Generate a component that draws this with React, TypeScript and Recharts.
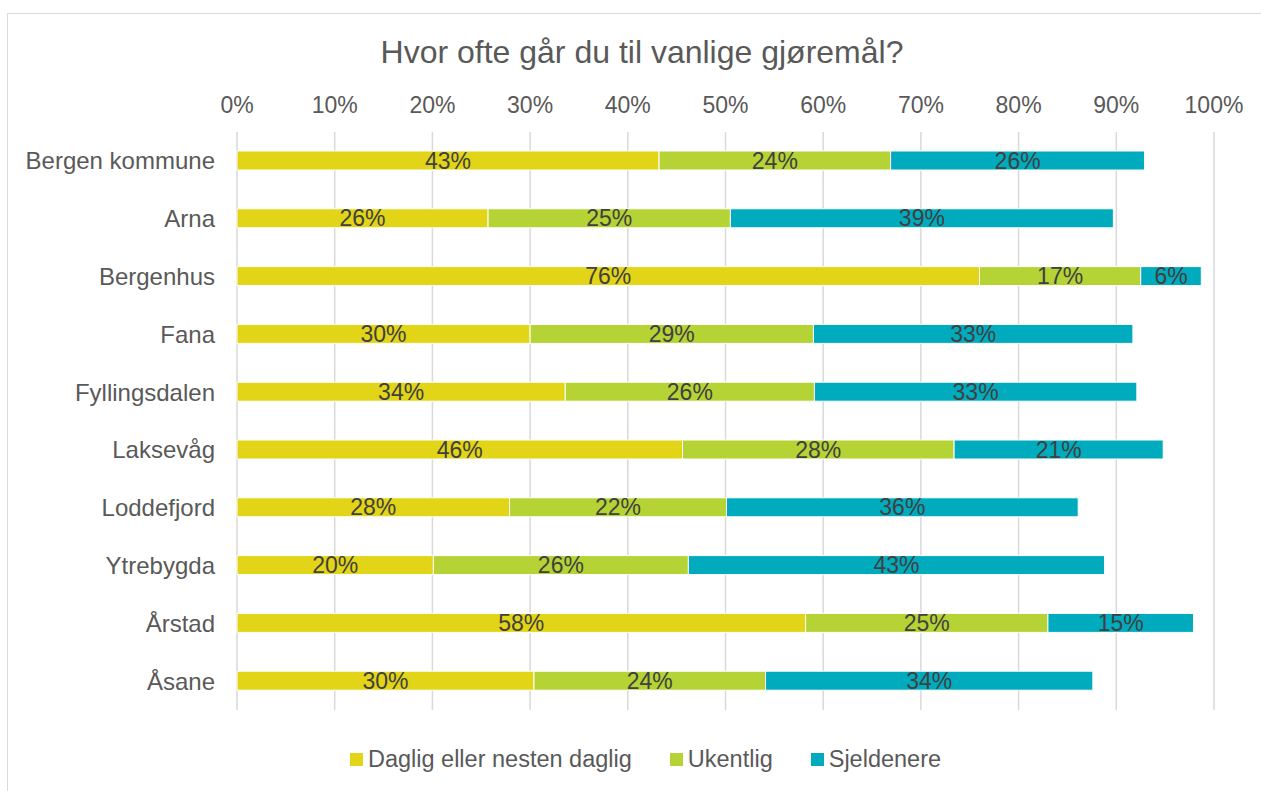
import React from 'react';
import {
  BarChart,
  Bar,
  XAxis,
  YAxis,
  CartesianGrid,
  LabelList,
} from 'recharts';

const categories = [
  'Bergen kommune',
  'Arna',
  'Bergenhus',
  'Fana',
  'Fyllingsdalen',
  'Laksevåg',
  'Loddefjord',
  'Ytrebygda',
  'Årstad',
  'Åsane',
];

const daglig = [0.432, 0.257, 0.76, 0.3, 0.336, 0.456, 0.279, 0.201, 0.582, 0.304];
const ukentlig = [0.237, 0.248, 0.165, 0.29, 0.255, 0.278, 0.222, 0.261, 0.248, 0.237];
const sjeldnere = [0.26, 0.392, 0.062, 0.327, 0.33, 0.214, 0.36, 0.426, 0.149, 0.335];

const xTicks = [0, 0.1, 0.2, 0.3, 0.4, 0.5, 0.6, 0.7, 0.8, 0.9, 1];

const SERIES = [
  { key: 'daglig', name: 'Daglig eller nesten daglig', color: '#E2D416' },
  { key: 'ukentlig', name: 'Ukentlig', color: '#B5D334' },
  { key: 'sjeldnere', name: 'Sjeldenere', color: '#00ABBD' },
];

const data = categories.map((name, i) => ({
  name,
  daglig: daglig[i],
  ukentlig: ukentlig[i],
  sjeldnere: sjeldnere[i],
}));

const FONT = '"Liberation Sans", Arial, sans-serif';
const FS = 23;
const pct = (v: number) => `${Math.round(v * 100)}%`;

export default function App() {
  return (
    <div style={{ position: 'absolute', left: 0, top: 0, width: 1261, height: 791, background: '#fff', overflow: 'hidden' }}>
      <div
        style={{
          position: 'absolute',
          left: 7,
          top: 13,
          width: 1270,
          height: 800,
          border: '1px solid #D9D9D9',
          boxSizing: 'border-box',
        }}
      />
      <div
        style={{
          position: 'absolute',
          left: 0,
          top: 34,
          width: 1284,
          textAlign: 'center',
          fontFamily: FONT,
          fontSize: 32,
          color: '#595959',
        }}
      >
        Hvor ofte går du til vanlige gjøremål?
      </div>
      <div style={{ position: 'absolute', left: 0, top: 0 }}>
        <BarChart
          width={1261}
          height={791}
          data={data}
          layout="vertical"
          barSize={19}
          margin={{ top: 92, right: 47, bottom: 81, left: 7 }}
        >
          <CartesianGrid horizontal={false} stroke="#D9D9D9" strokeWidth={1.5} />
          <XAxis
            type="number"
            orientation="top"
            domain={[0, 1]}
            ticks={xTicks}
            tickFormatter={pct}
            axisLine={false}
            tickLine={false}
            tickMargin={13}
            height={40}
            interval={0}
            tick={{ fill: '#595959', fontSize: FS, fontFamily: FONT }}
          />
          <YAxis
            type="category"
            dataKey="name"
            width={230}
            axisLine={false}
            tickLine={false}
            tickMargin={16}
            interval={0}
            tick={{ fill: '#595959', fontSize: 24, fontFamily: FONT }}
          />
          {SERIES.map((s) => (
            <Bar
              key={s.key}
              dataKey={s.key}
              name={s.name}
              stackId="a"
              fill={s.color}
              stroke="#fff"
              strokeWidth={1}
              isAnimationActive={false}
            >
              <LabelList
                dataKey={s.key}
                position="center"
                formatter={(v: number) => pct(v)}
                fill="#404040"
                fontSize={FS}
                fontFamily={FONT}
              />
            </Bar>
          ))}
        </BarChart>
      </div>
      <div
        style={{
          position: 'absolute',
          left: 0,
          top: 746,
          width: 1291,
          display: 'flex',
          justifyContent: 'center',
          gap: 38,
          fontFamily: FONT,
          fontSize: 23.5,
          color: '#595959',
        }}
      >
        {SERIES.map((s) => (
          <div key={s.key} style={{ display: 'flex', alignItems: 'center' }}>
            <span style={{ width: 13, height: 13, background: s.color, marginRight: 5, display: 'inline-block' }} />
            <span>{s.name}</span>
          </div>
        ))}
      </div>
    </div>
  );
}
